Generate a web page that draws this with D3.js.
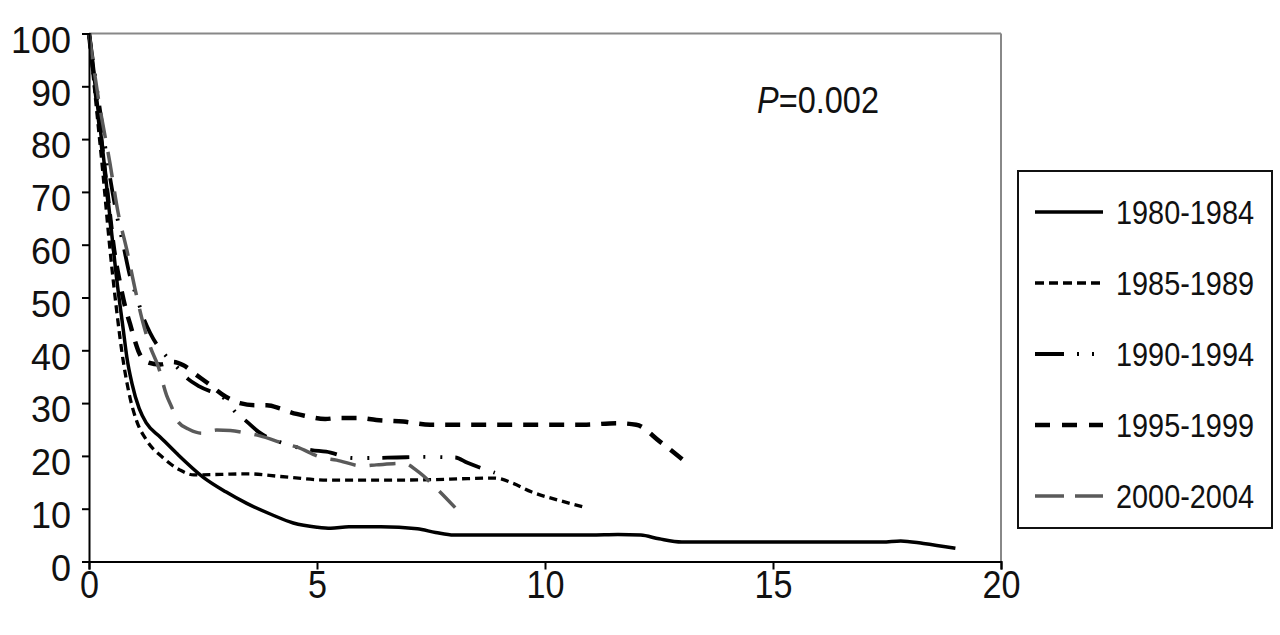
<!DOCTYPE html>
<html><head><meta charset="utf-8">
<script src="https://cdn.jsdelivr.net/npm/d3@7"></script>
<style>html,body{margin:0;padding:0;background:#fff;}svg{display:block;}</style>
</head><body>
<svg id="c" width="1280" height="635"></svg>
<script>
const xTicks = [0, 5, 10, 15, 20];
const yTicks = [0, 10, 20, 30, 40, 50, 60, 70, 80, 90, 100];
const seriesNames = ["1980-1984", "1985-1989", "1990-1994", "1995-1999", "2000-2004"];
const s1980 = [[0,100],[0.15,89],[0.3,78],[0.45,66],[0.6,54],[0.75,44],[0.83,38.7],[0.94,33.8],[1.1,29],[1.26,26.2],[1.56,23.6],[1.92,20.5],[2.5,16],[3,13.2],[3.46,11],[4,8.9],[4.48,7.3],[5,6.5],[5.3,6.3],[5.7,6.6],[6.4,6.6],[7.2,6.2],[7.6,5.5],[8,5],[9,5],[10,5],[11,5],[11.6,5.1],[12.1,5.0],[12.5,4.3],[13,3.7],[14,3.7],[15,3.7],[16,3.7],[17.4,3.7],[17.8,3.9],[18.3,3.4],[19,2.5]];
const s1985 = [[0,100],[0.15,87],[0.3,74],[0.45,60],[0.6,48],[0.75,38],[0.9,31],[1.05,26.5],[1.26,23],[1.63,19.6],[2.0,17.3],[2.3,16.4],[2.9,16.5],[3.5,16.6],[4.2,16.1],[5.3,15.4],[6.4,15.4],[7.5,15.5],[8.3,15.7],[8.9,15.8],[9.3,14.8],[9.7,13.2],[10.3,11.6],[10.9,10.2]];
const s1990 = [[0,100],[0.2,88],[0.4,76],[0.6,66],[0.75,60],[0.9,54],[1.05,50],[1.2,46],[1.34,43.3],[1.7,38.8],[1.92,36.9],[2.17,34.6],[2.43,33.1],[3.0,30.6],[3.2,28.4],[3.46,26.5],[3.71,24.6],[4.26,22.4],[4.88,21.1],[5.2,20.8],[5.8,19.6],[6.1,19.6],[6.75,19.7],[7.33,19.8],[8.03,19.7],[8.3,18.7],[8.9,16.8]];
const s1995 = [[0,100],[0.2,85],[0.4,70],[0.55,59],[0.68,52.7],[0.8,48],[0.9,45],[1.0,42],[1.1,39.5],[1.26,37.8],[1.56,37.3],[1.84,37.8],[2.06,37.2],[2.36,35.3],[2.6,33.8],[3.0,31.2],[3.31,30],[3.64,29.6],[3.9,29.6],[4.19,29],[4.44,28.2],[4.74,27.6],[5.18,27],[5.5,27.2],[5.9,27.2],[6.3,26.8],[6.89,26.5],[7.48,25.9],[8.8,25.9],[10.84,25.9],[11.57,26.2],[12.0,25.9],[12.52,22.7],[13.03,19.2]];
const s2000 = [[0,100],[0.2,88],[0.46,75.4],[0.64,66],[0.83,59],[1.0,52],[1.19,45],[1.35,40.5],[1.52,36.9],[1.7,31.5],[1.81,29.3],[1.95,26.5],[2.2,25],[2.47,24.3],[2.8,24.9],[3.1,24.8],[3.4,24.4],[3.75,23.8],[4.26,22.4],[4.55,21.7],[5.1,19.7],[5.43,19.2],[6.0,18.1],[6.3,18.3],[6.9,18.6],[7.19,17.2],[7.66,13.5],[8.03,10.2]];
const pLabel = "=0.002";

const allSeries = [s1980, s1985, s1990, s1995, s2000];
const styles = [
  {stroke:"#000", w:3.5, dash:null},
  {stroke:"#000", w:3.3, dash:"8,5"},
  {stroke:"#000", w:3.8, dash:"27,14,2,15,2,13"},
  {stroke:"#000", w:4.5, dash:"15,11"},
  {stroke:"#5a5a5a", w:3.5, dash:"26,14"}
];

const svg = d3.select("#c");
const L = 89, R = 1001, T = 33.5, B = 561.5;
const x = d3.scaleLinear().domain([0, 20]).range([L, R]);
const y = d3.scaleLinear().domain([0, 100]).range([B, T]);
const font = "'Liberation Sans', Arial, sans-serif";

svg.append("line").attr("x1", L).attr("x2", R).attr("y1", T).attr("y2", T).attr("stroke", "#888").attr("stroke-width", 2);
svg.append("line").attr("x1", R).attr("x2", R).attr("y1", T).attr("y2", B).attr("stroke", "#888").attr("stroke-width", 2);

const line = d3.line().x(d => x(d[0])).y(d => y(d[1])).curve(d3.curveMonotoneX);
const g = svg.append("g");
allSeries.forEach((s, i) => {
  g.append("path").attr("d", line(s)).attr("fill", "none")
    .attr("stroke", styles[i].stroke).attr("stroke-width", styles[i].w)
    .attr("stroke-dasharray", styles[i].dash).attr("stroke-linejoin", "round");
});

const xAxis = svg.append("g").attr("transform", `translate(0,${B})`)
  .call(d3.axisBottom(x).tickValues(xTicks).tickSize(8).tickPadding(10).tickFormat(d3.format("d")));
const yAxis = svg.append("g").attr("transform", `translate(${L},0)`)
  .call(d3.axisLeft(y).tickValues(yTicks).tickSize(7).tickPadding(11).tickFormat(d3.format("d")));
[xAxis, yAxis].forEach(a => {
  a.select(".domain").attr("stroke", "#000").attr("stroke-width", 2);
  a.selectAll(".tick line").attr("stroke", "#000").attr("stroke-width", 2);
  a.selectAll(".tick text").attr("fill", "#111").style("font-family", font);
});
yAxis.selectAll(".tick text").style("font-size", "36px").attr("dy", "0.52em");
xAxis.selectAll(".tick text").style("font-size", "39px").attr("y", 36).attr("dy", 0)
  .attr("textLength", d => String(d).length * 19).attr("lengthAdjust", "spacingAndGlyphs");

const pt = svg.append("text").attr("x", 757).attr("y", 113).attr("textLength", 122).attr("lengthAdjust", "spacingAndGlyphs")
  .style("font-family", font).style("font-size", "36px").attr("fill", "#111");
pt.append("tspan").style("font-style", "italic").text("P");
pt.append("tspan").text(pLabel);

const lg = svg.append("g");
lg.append("rect").attr("x", 1018).attr("y", 171).attr("width", 254).attr("height", 357)
  .attr("fill", "none").attr("stroke", "#111").attr("stroke-width", 2);
seriesNames.forEach((n, i) => {
  const cy = 212 + i * 71;
  lg.append("line").attr("x1", 1035).attr("x2", 1103).attr("y1", cy).attr("y2", cy)
    .attr("stroke", styles[i].stroke).attr("stroke-width", styles[i].w)
    .attr("stroke-dasharray", i === 1 ? "9,5" : i === 2 ? "29,13,2,13,2,20" : i === 3 ? "15,12" : i === 4 ? "29,11" : null);
  lg.append("text").attr("x", 1116).attr("y", cy + 12).attr("textLength", 138).attr("lengthAdjust", "spacingAndGlyphs")
    .style("font-family", font).style("font-size", "33px").attr("fill", "#111").text(n);
});
</script>
</body></html>
